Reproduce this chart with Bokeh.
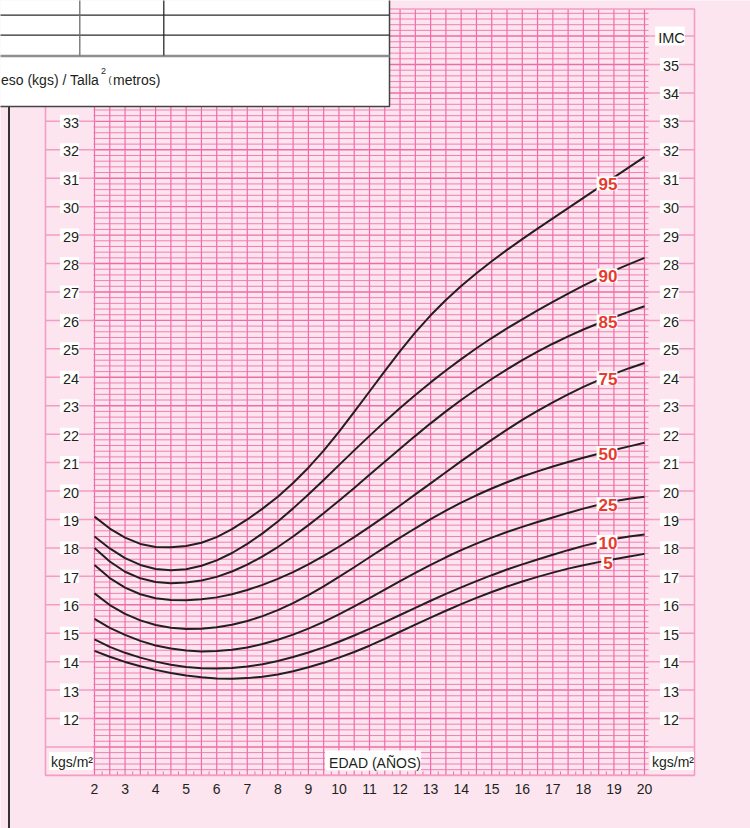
import numpy as np
from bokeh.plotting import figure
from bokeh.models import Range1d
from bokeh.core.properties import value
from bokeh.embed import file_html
from bokeh.resources import INLINE

# ---------------- data ----------------
ages = [2.0, 2.5, 3.0, 3.5, 4.0, 4.5, 5.0, 5.5, 6.0, 6.5, 7.0, 7.5, 8.0, 8.5,
        9.0, 9.5, 10.0, 10.5, 11.0, 11.5, 12.0, 12.5, 13.0, 13.5, 14.0, 14.5,
        15.0, 15.5, 16.0, 16.5, 17.0, 17.5, 18.0, 18.5, 19.0, 19.5, 20.0]

p95 = [19.10, 18.68, 18.36, 18.14, 18.03, 18.02, 18.07, 18.18, 18.38, 18.66, 19.00, 19.38, 19.80, 20.28,
       20.82, 21.42, 22.08, 22.78, 23.50, 24.22, 24.92, 25.58, 26.18, 26.72, 27.21, 27.66,
       28.08, 28.48, 28.86, 29.23, 29.59, 29.95, 30.31, 30.67, 31.03, 31.39, 31.75]
p90 = [18.40, 17.98, 17.64, 17.40, 17.26, 17.21, 17.25, 17.37, 17.56, 17.82, 18.14, 18.51, 18.93, 19.39,
       19.88, 20.39, 20.91, 21.43, 21.94, 22.44, 22.92, 23.38, 23.82, 24.24, 24.64, 25.02,
       25.38, 25.72, 26.04, 26.35, 26.65, 26.94, 27.22, 27.49, 27.75, 27.98, 28.20]
p85 = [18.00, 17.52, 17.16, 16.93, 16.80, 16.76, 16.78, 16.85, 16.98, 17.17, 17.41, 17.70, 18.03, 18.40,
       18.80, 19.22, 19.66, 20.11, 20.57, 21.03, 21.49, 21.94, 22.38, 22.80, 23.20, 23.58,
       23.94, 24.28, 24.60, 24.90, 25.18, 25.44, 25.68, 25.90, 26.11, 26.31, 26.50]
p75 = [17.40, 16.94, 16.60, 16.37, 16.23, 16.17, 16.16, 16.19, 16.26, 16.37, 16.52, 16.70, 16.91, 17.15,
       17.42, 17.72, 18.04, 18.38, 18.74, 19.11, 19.49, 19.88, 20.27, 20.66, 21.05, 21.43,
       21.80, 22.16, 22.50, 22.82, 23.12, 23.40, 23.66, 23.90, 24.12, 24.32, 24.50]
p50 = [16.40, 15.99, 15.68, 15.45, 15.29, 15.19, 15.15, 15.16, 15.21, 15.30, 15.43, 15.60, 15.81, 16.06,
       16.34, 16.65, 16.98, 17.32, 17.67, 18.02, 18.36, 18.69, 19.01, 19.31, 19.59, 19.85,
       20.09, 20.31, 20.51, 20.69, 20.86, 21.02, 21.17, 21.31, 21.44, 21.57, 21.70]
p25 = [15.50, 15.19, 14.94, 14.73, 14.57, 14.46, 14.39, 14.36, 14.37, 14.42, 14.50, 14.62, 14.77, 14.95,
       15.16, 15.40, 15.66, 15.94, 16.23, 16.53, 16.83, 17.12, 17.40, 17.67, 17.92, 18.15,
       18.36, 18.56, 18.74, 18.91, 19.07, 19.23, 19.38, 19.52, 19.64, 19.73, 19.80]
p10 = [14.78, 14.52, 14.31, 14.14, 14.00, 13.89, 13.81, 13.77, 13.76, 13.78, 13.83, 13.91, 14.02, 14.16,
       14.32, 14.50, 14.70, 14.92, 15.15, 15.39, 15.64, 15.89, 16.14, 16.38, 16.61, 16.83,
       17.04, 17.24, 17.42, 17.59, 17.76, 17.92, 18.07, 18.20, 18.31, 18.40, 18.47]
p5 = [14.38, 14.17, 13.99, 13.84, 13.71, 13.60, 13.51, 13.45, 13.41, 13.40, 13.42, 13.47, 13.55, 13.66,
      13.80, 13.96, 14.14, 14.34, 14.56, 14.80, 15.05, 15.30, 15.55, 15.79, 16.02, 16.24,
      16.45, 16.64, 16.82, 16.98, 17.13, 17.27, 17.39, 17.50, 17.60, 17.70, 17.79]

series = [p5, p10, p25, p50, p75, p85, p90, p95]
percentile_labels = ["5", "10", "25", "50", "75", "85", "90", "95"]

y_ticks = list(range(12, 36))
x_ticks = list(range(2, 21))
y_title = "IMC"
x_title = "EDAD (AÑOS)"
unit_label = "kgs/m²"
formula_main = "eso (kgs) / Talla"
formula_sup = "2"
formula_paren = "("
formula_rest = "metros)"

# ---------------- layout helpers (pixel -> data) ----------------
PXX = 550.0 / 18.0
PXY = 654.0 / 23.0


def dx(px):
    return 2.0 + (px - 94.0) / PXX


def dy(py):
    return 12.0 + (718.0 - py) / PXY


W, H = 750, 828
X0, X1 = dx(0), dx(W)
Y0, Y1 = dy(H), dy(0)

BG = "#FCE5EF"
GRID = "#F06CA9"
BORDER = "#F59CC3"
INK = "#231F20"
RED = "#E83A2E"
FONT = "Liberation Sans"

p = figure(width=W, height=H, x_range=Range1d(X0, X1), y_range=Range1d(Y0, Y1),
           output_backend="svg", toolbar_location=None, min_border=0,
           x_axis_type=None, y_axis_type=None)
p.grid.visible = False
p.outline_line_color = None
p.background_fill_color = BG
p.border_fill_color = BG

# ---------------- grid ----------------
TOP = dy(8.5)
gx = np.arange(2.0, 20.001, 0.5)
p.segment(x0=gx, y0=np.full_like(gx, 10.0), x1=gx, y1=np.full_like(gx, TOP),
          line_color=GRID, line_width=1.2)

gy = np.round(np.arange(10.0, TOP, 0.2), 3)
minor = gy[np.abs(gy - np.round(gy)) > 1e-6]
major = gy[np.abs(gy - np.round(gy)) <= 1e-6]
p.segment(x0=np.full_like(minor, dx(93)), y0=minor, x1=np.full_like(minor, dx(648)), y1=minor,
          line_color=GRID, line_width=1.0, line_alpha=0.85)
p.segment(x0=np.full_like(major, dx(92)), y0=major, x1=np.full_like(major, dx(648)), y1=major,
          line_color=GRID, line_width=1.4)

# quarter-year ticks at bottom
qx = np.arange(2.25, 20.0, 0.5)
p.segment(x0=qx, y0=np.full_like(qx, 10.0), x1=qx, y1=np.full_like(qx, dy(771)),
          line_color=GRID, line_width=1.0)

# ---------------- margins / border ----------------
left_ticks = [v for v in y_ticks if v < dy(106)]
ml = np.array(left_ticks + [11], dtype=float)
p.segment(x0=np.full_like(ml, dx(45)), y0=ml, x1=np.full_like(ml, 2.0), y1=ml,
          line_color=BORDER, line_width=1.5)
mr = np.array(y_ticks + [11, 36], dtype=float)
p.segment(x0=np.full_like(mr, 20.0), y0=mr, x1=np.full_like(mr, dx(694)), y1=mr,
          line_color=BORDER, line_width=1.5)
p.quad(left=dx(45), right=dx(694), bottom=10.0, top=dy(8.5),
       fill_color=None, line_color=BORDER, line_width=1.6)

# ---------------- percentile curves ----------------
for s in series:
    p.line(ages, s, line_color=INK, line_width=2.0)

lab_age = dx(606.5)
lab_y = [float(np.interp(lab_age, ages, s)) - 0.05 for s in series]
p.text(x=[lab_age] * len(series), y=lab_y, text=percentile_labels,
       text_font=value(FONT), text_font_style="bold", text_font_size="17px",
       text_color=RED, text_align="center", text_baseline="middle",
       background_fill_color="white", padding=[2, 0, 2, 0])

# ---------------- tick labels ----------------
tick_kw = dict(text_font=value(FONT), text_font_size="14.5px", text_color=INK,
               text_align="center", text_baseline="middle",
               background_fill_color="white", padding=[3, 0, 3, 0])
p.text(x=[dx(69)] * len(left_ticks), y=left_ticks, text=[str(v) for v in left_ticks], **tick_kw)
p.text(x=[dx(669)] * len(y_ticks), y=y_ticks, text=[str(v) for v in y_ticks], **tick_kw)
p.text(x=[dx(669.5)], y=[36.0], text=[y_title], **tick_kw)
unit_kw = dict(tick_kw, text_font_size="14px", padding=[2, 0, 2, 0])
p.text(x=[dx(70.5), dx(671.5)], y=[dy(760.5)] * 2, text=[unit_label] * 2, **unit_kw)
p.text(x=[dx(372.5)], y=[dy(760)], text=[x_title], **dict(tick_kw, text_font_size="14px",
                                                          padding=[4, 0, 4, 0]))
p.text(x=x_ticks, y=[dy(788)] * len(x_ticks), text=[str(v) for v in x_ticks],
       text_font=value(FONT), text_font_size="14px", text_color=INK,
       text_align="center", text_baseline="middle")

# ---------------- left black rule ----------------
p.segment(x0=[dx(8.5)], y0=[Y0 - 1], x1=[dx(8.5)], y1=[dy(106)], line_color="#333333", line_width=2)

# ---------------- white header box ----------------
p.quad(left=X0 - 1, right=dx(389), bottom=dy(106), top=Y1 + 1,
       fill_color="white", line_color=None)
p.line([X0 - 1, dx(389), dx(389)], [dy(106), dy(106), Y1 + 1], line_color="#444444", line_width=1.5)
p.segment(x0=[X0 - 1, X0 - 1], y0=[dy(14.7), dy(34.7)], x1=[dx(389), dx(389)], y1=[dy(14.7), dy(34.7)],
          line_color="#2B2B2B", line_width=1.3)
p.segment(x0=[X0 - 1], y0=[dy(55.5)], x1=[dx(389)], y1=[dy(55.5)],
          line_color="#8E8E8E", line_width=2.5)
p.segment(x0=[dx(79.3)], y0=[dy(55)], x1=[dx(79.3)], y1=[Y1 + 1], line_color="#6E6E6E", line_width=1.3)
p.segment(x0=[dx(163.3)], y0=[dy(55)], x1=[dx(163.3)], y1=[Y1 + 1], line_color="#2B2B2B", line_width=1.3)

p.text(x=[dx(0.5)], y=[dy(79.5)], text=[formula_main], text_font=value(FONT),
       text_font_size="14px", text_color=INK, text_align="left", text_baseline="alphabetic")
p.text(x=[dx(100.5)], y=[dy(70.5)], text=[formula_sup], text_font=value(FONT),
       text_font_size="9px", text_color=INK, text_align="left", text_baseline="alphabetic")
p.text(x=[dx(108)], y=[dy(79.5)], text=[formula_paren], text_font=value(FONT),
       text_font_size="9px", text_color=INK, text_align="left", text_baseline="alphabetic")
p.text(x=[dx(112.5)], y=[dy(79.5)], text=[formula_rest], text_font=value(FONT),
       text_font_size="14px", text_color=INK, text_align="left", text_baseline="alphabetic")

open("out.html", "w").write(file_html(p, INLINE))
